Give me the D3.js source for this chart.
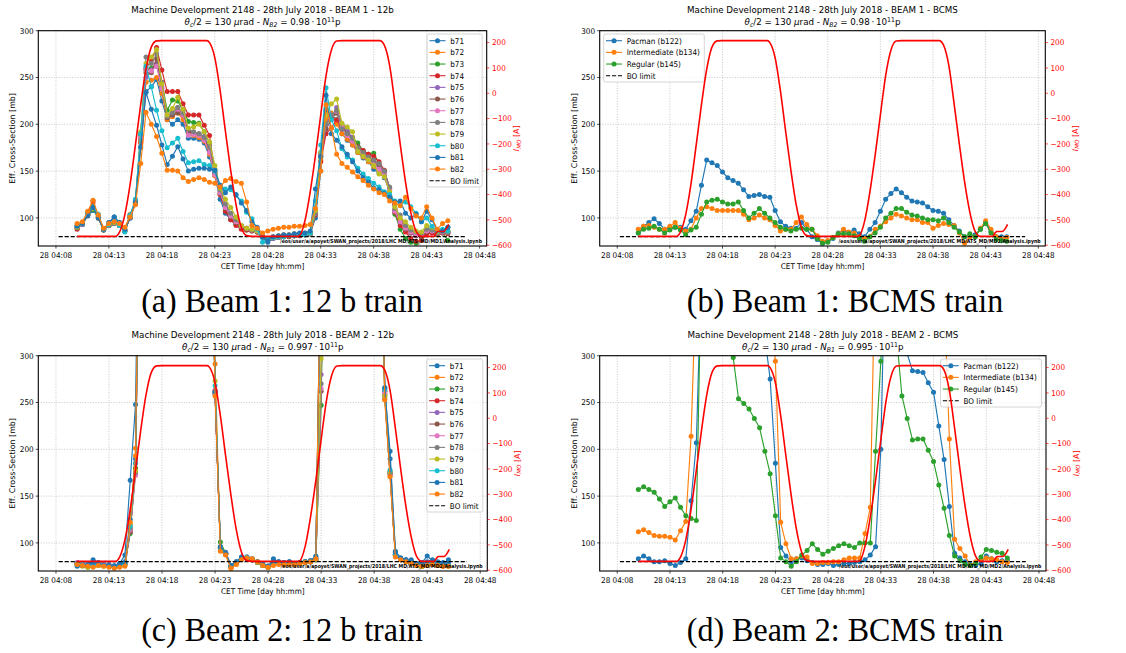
<!DOCTYPE html>
<html>
<head>
<meta charset="utf-8">
<title>MD 2148 – effective cross-section vs MO current</title>
<script src="https://cdn.jsdelivr.net/npm/d3@7/dist/d3.min.js"></script>
<style>
  html, body { margin: 0; padding: 0; background: #ffffff; }
  svg { display: block; }
  text { font-family: "DejaVu Sans", "Noto Sans", sans-serif; }
  .caption { font-family: "Liberation Serif", "DejaVu Serif", serif; }
</style>
</head>
<body>
<svg id="fig" width="1126" height="653" xmlns="http://www.w3.org/2000/svg"></svg>
<script>
// ---------- acquisition clock (one sample every 30 s, 28 July 2018) ----------
const sampleStart = "04:10:00";
const sampleStepSeconds = 30;

const timeTickLabels = ["04:08","04:13","04:18","04:23","04:28","04:33","04:38","04:43","04:48"];
const crossSectionTicks = [100, 150, 200, 250, 300];
const currentTicks = [-600, -500, -400, -300, -200, -100, 0, 100, 200];

const boLimit = 80;
const boLimitSpan = ["04:08:15", "04:46:45"];

const trainBunches = ["b71","b72","b73","b74","b75","b76","b77","b78","b79","b80","b81","b82"];
const bcmsBunches = ["Pacman (b122)", "Intermediate (b134)", "Regular (b145)"];

// ---------- Beam 1, 12b train: effective cross-section [mb] ----------
const b1_b71 = [91,93,102,108,102,87,95,101,95,86,103,118, 175,235,240,248,225,205,200,205,200,185,185,184,180,165,145,120,105,98,93,90, 88,87,86,79,74,78,79,80,81,81,82,82,83,100, 150,215,210,205,190,183,178,170,164,160,152,148,143,128, 106,97,90,86,83,82,88,88,84,86,90];
const b1_b72 = [93,95,106,116,102,88,92,94,93,88,104,115, 182,245,247,250,233,205,208,212,205,190,188,186,182,168,145,125,110,101,95,91, 89,88,86,81,78,80,81,82,82,83,83,84,85,106, 162,205,212,200,190,184,178,170,165,160,155,150,145,128, 108,98,91,86,83,82,87,87,85,86,86];
const b1_b73 = [90,94,103,109,100,87,92,94,92,86,101,116, 188,258,260,262,245,215,226,225,215,203,202,201,192,180,152,127,110,100,93,89, 87,86,85,80,77,78,79,80,80,81,81,82,83,104, 165,200,207,212,198,192,186,180,172,168,169,158,150,132, 104,88,78,74,73,76,84,85,82,84,76];
const b1_b74 = [88,94,103,118,100,87,92,94,92,86,100,115, 180,260,268,282,258,235,235,235,222,210,210,210,199,188,148,125,107,98,92,88, 87,86,85,80,78,79,80,80,80,81,81,82,83,103, 160,190,196,205,195,190,186,176,172,168,166,160,151,130, 106,92,85,78,75,76,83,84,82,84,83];
const b1_b75 = [90,93,104,111,101,88,93,95,93,87,102,116, 186,250,258,265,240,210,210,218,210,192,190,189,187,172,148,128,112,103,96,91, 89,87,86,80,76,78,79,80,81,81,82,82,83,106, 168,195,205,218,200,193,186,172,168,163,158,155,148,131, 108,96,89,84,81,81,86,86,84,85,85];
const b1_b76 = [89,94,103,110,100,88,92,94,92,86,101,115, 184,255,255,270,238,207,210,212,210,193,190,190,185,172,148,126,110,101,95,90, 88,87,85,80,77,79,80,80,81,81,82,82,83,104, 166,195,206,212,198,190,184,176,170,164,160,156,150,132, 109,95,88,84,81,80,85,86,83,85,84];
const b1_b77 = [91,94,104,111,102,88,93,95,93,87,102,117, 186,258,257,262,238,210,214,216,210,188,189,188,183,170,146,127,111,102,96,91, 89,87,86,80,77,79,80,81,81,82,82,83,84,105, 168,200,210,214,197,188,182,174,166,162,157,152,147,130, 107,96,89,85,82,82,86,86,84,85,85];
const b1_b78 = [90,94,104,110,101,88,92,94,92,86,101,116, 190,272,265,275,245,208,212,218,212,195,192,190,186,176,150,130,115,105,98,92, 89,87,86,80,77,79,80,80,81,81,82,82,83,105, 170,200,210,215,195,190,185,175,170,165,162,158,150,133, 110,103,92,87,85,84,88,87,84,86,85];
const b1_b79 = [90,94,104,110,101,88,93,95,93,87,102,117, 192,265,272,280,243,210,217,229,216,196,197,200,192,181,156,132,120,111,101,92, 89,88,86,81,77,79,80,81,81,82,82,83,84,108, 170,210,222,227,201,197,192,171,166,162,156,147,144,128, 112,100,96,90,86,85,92,90,85,86,86];
const b1_b80 = [92,95,105,112,104,88,93,96,92,85,103,120, 190,262,240,215,193,175,180,185,171,159,160,161,157,156,150,135,131,130,124,118, 106,99,88,74,78,79,80,80,81,81,82,82,84,118, 178,239,205,193,174,165,162,153,147,142,137,133,128,125, 118,116,117,112,105,96,100,91,86,88,86];
const b1_b81 = [91,94,103,111,100,88,95,101,95,88,100,117, 176,234,216,199,178,157,166,176,163,150,152,153,153,152,151,135,127,133,125,116, 108,96,90,80,76,80,81,82,82,83,84,84,86,131, 166,231,190,183,176,168,160,150,143,138,132,130,126,122, 117,118,105,100,104,96,107,98,87,86,90];
const b1_b82 = [94,96,107,119,103,89,94,96,94,90,101,114, 158,213,200,187,169,151,151,150,143,139,141,143,141,138,137,133,140,142,139,137, 117,92,89,84,86,88,89,90,90,91,91,92,93,110, 150,221,196,168,158,154,149,144,140,135,131,127,125,118, 116,113,122,110,102,100,112,100,88,94,97];

// ---------- Beam 1, BCMS train ----------
const bcms1_pacman = [84,91,95,99,94,88,89,90,90,88,97,107,135,162,159,156,149,143,140,137,130,123,124,125,123,122,108,96,91,89,89,95,88,80,77,73,75,78,84,87,84,87,83,80,88,95,107,120,126,131,127,122,118,117,116,112,108,107,105,98,92,86,80,80,82,88,95,86,80,80,80];
const bcms1_inter  = [88,91,92,90,88,88,91,95,89,86,88,100,110,112,110,108,108,108,108,108,104,98,100,103,100,98,92,86,88,88,95,101,93,88,81,75,76,79,83,88,85,84,80,78,80,88,91,96,100,104,102,100,98,98,95,95,89,92,94,93,92,84,73,80,80,89,97,88,80,78,79];
const bcms1_regular = [84,88,89,91,88,84,87,90,87,82,87,90,104,117,119,120,117,115,115,117,108,100,105,110,105,100,95,90,88,86,88,89,88,88,78,73,74,79,83,83,83,81,78,75,80,84,90,100,105,110,110,106,103,102,100,98,98,97,100,95,90,85,80,83,80,88,94,84,77,76,75];

// ---------- Beam 2, 12b train ----------
const b2_b71 = [76,78,77,82,79,78,77,76,78,87,167,248, 620,700,740,760,770,770,760,750,740,720,700,680,640,560, 261,96,90,76,80,85,84,82,80,76,75,83,80,79,80,78,79,80,81,86, 420, 650,720,760,780,780,770,760,740,700,640,560, 265,198,91,84,82,82,78,79,86,81,79,78,82];
const b2_b72 = [78,76,77,75,77,76,75,74,75,77,118,201, 600,680,720,740,750,750,740,730,720,700,680,650,610,600, 291,92,88,73,78,83,85,83,80,77,74,77,78,77,78,77,78,79,80,83, 450, 640,700,740,760,760,750,740,720,680,620,550, 253,171,86,82,80,78,76,75,77,78,76,75,75];
const b2_b73 = [77,76,74,75,76,77,76,75,76,78,110,180, 580,660,700,720,730,730,720,710,700,690,670,640,600,580, 258,101,89,75,79,84,84,82,79,76,74,78,78,78,79,78,79,80,80,82, 247, 600,680,720,740,740,730,720,700,660,600,540, 258,175,88,83,81,79,76,75,77,78,76,76,76];
const b2_b74 = [78,77,76,76,77,76,75,74,75,77,112,185, 590,670,710,730,740,740,730,720,710,700,680,650,620,590, 263,94,88,74,78,83,84,82,79,76,74,78,79,78,79,78,79,80,80,82, 440, 630,700,740,760,760,750,740,720,680,620,560, 262,176,87,82,80,78,76,76,77,78,76,76,76];
const b2_b75 = [79,78,77,77,78,77,76,75,76,78,115,176, 590,670,710,730,740,740,730,720,710,700,680,650,620,590, 262,95,89,75,79,84,85,83,80,77,75,78,79,78,79,78,79,80,81,83, 280, 630,700,740,760,760,750,740,720,680,620,560, 262,175,88,83,81,79,77,76,78,78,77,76,77];
const b2_b76 = [78,77,76,76,77,76,75,75,76,77,112,178, 590,670,710,730,740,740,730,720,710,700,680,650,620,590, 260,95,88,75,79,83,84,82,79,76,75,78,79,78,79,78,79,80,80,82, 262, 620,690,730,750,750,740,730,710,670,610,550, 258,174,87,82,80,78,77,76,77,78,77,76,76];
const b2_b77 = [79,78,77,77,78,77,76,75,76,78,114,172, 590,670,710,730,740,740,730,720,710,700,680,650,620,590, 259,96,89,75,79,84,85,82,80,77,75,79,79,78,79,78,79,80,81,83, 265, 620,690,730,750,750,740,730,710,670,610,550, 260,173,88,82,80,78,77,76,78,78,77,77,77];
const b2_b78 = [78,77,76,76,77,76,76,75,76,78,116,175, 590,670,710,730,740,740,730,720,710,700,680,650,620,590, 262,94,88,75,79,83,84,82,80,76,75,78,79,78,79,78,79,80,80,82, 270, 620,690,730,750,750,740,730,710,670,610,550, 255,174,87,82,80,78,77,76,77,78,77,76,76];
const b2_b79 = [76,75,74,75,76,75,75,74,75,77,120,177, 600,680,720,740,750,750,740,730,720,700,680,650,620,600, 273,95,88,75,79,84,84,82,79,76,74,78,79,78,79,78,79,80,80,82, 297, 640,700,740,760,760,750,740,720,680,620,560, 257,176,87,82,80,78,76,75,77,77,76,76,75];
const b2_b80 = [77,77,76,76,77,76,75,75,76,78,118,185, 600,680,720,740,750,750,740,730,720,700,680,650,620,600, 268,93,88,75,79,84,85,83,80,77,75,78,79,78,79,78,79,80,81,83, 430, 640,700,740,760,760,750,740,720,680,620,560, 264,178,88,82,80,78,77,76,78,78,77,76,77];
const b2_b81 = [75,76,77,79,77,76,76,75,77,80,125,190, 620,690,730,750,760,760,750,740,730,710,690,660,630,610, 261,96,89,76,80,85,84,82,80,77,75,80,80,79,80,78,79,80,81,85, 440, 650,710,750,770,770,760,750,730,690,630,570, 266,190,90,84,82,80,78,78,80,82,80,79,80];
const b2_b82 = [77,76,75,74,76,75,74,73,74,75,122,193, 610,690,730,750,760,760,750,740,730,710,690,660,630,610, 257,91,87,73,77,82,84,83,80,76,74,76,77,77,77,77,78,79,80,83, 450, 650,710,750,770,770,760,750,730,690,630,570, 253,171,85,82,80,78,76,75,76,77,76,75,75];

// ---------- Beam 2, BCMS train ----------
const bcms2_pacman = [83,86,83,80,80,81,78,76,79,83,145,207, 400,520,560,580,590,590,580,560,540,500,450,400,320, 275,185,95,86,80,83,84,81,79,77,77,78,76,77,78,78,79,80,82,87,96,200, 460,560,520,400, 302,284,283,282,271,261,225,189,139,89,84,80,77,76,78,86,83,80,81,81];
const bcms2_inter  = [112,114,111,108,107,107,106,103,113,123,214, 390,560,620,650,650,640,630,620,600,580,560,540,520,480,340, 294,122,99,83,83,86,85,78,78,79,79,80,80,82,84,84,84,110,138, 430,540,600,620,620,610,600,580,560,540,520,480,440,370, 211,104,94,86,76,80,82,84,83,82,80,79];
const bcms2_regular = [157,160,157,154,147,139,144,148,138,129,126,124, 410,560,640,660,620,500, 298,254,249,243,233,223,198,174,129,84,80,75,80,87,92,99,93,88,91,94,97,99,97,95,100,100,100,198,294, 450,520,320, 257,233,210,211,211,199,187,162,137,108,86,81,77,76,78,85,93,92,90,89,84];

// ---------- MO current I_MO [A] ----------
const moClock = ["04:10:00","04:13:35","04:14:00","04:14:30","04:15:00","04:15:30","04:16:00","04:16:30","04:17:00","04:17:30","04:18:00","04:22:15","04:22:30","04:23:00","04:23:30","04:24:00","04:24:30","04:25:00","04:25:30","04:26:00","04:26:30","04:30:45","04:31:00","04:31:30","04:32:00","04:32:30","04:33:00","04:33:30","04:34:00","04:34:30","04:35:00","04:38:35","04:39:00","04:39:30","04:40:00","04:40:30","04:41:00","04:41:30","04:42:00","04:42:30","04:43:40","04:43:55","04:44:05","04:44:35","04:45:05"];
const moCurrent = [-565,-565,-548,-480,-360,-205,-45,95,182,207,208,208,200,140,10,-150,-305,-440,-530,-562,-565,-565,-562,-505,-390,-245,-85,70,170,206,208,208,190,110,-40,-200,-350,-470,-545,-565,-565,-550,-546,-546,-518];

// ---------- figure ----------
const tab10 = ["#1f77b4","#ff7f0e","#2ca02c","#d62728","#9467bd","#8c564b","#e377c2","#7f7f7f","#bcbd22","#17becf"];
const SX = 0.92;           // horizontal text compression of the figure
const FS = 7.9;            // tick / label / legend size
const FS_TITLE = 9.5;
const MARKER_R = 2.5;

const svg = d3.select("#fig");

function clock(s) {
  const p = s.split(":").map(Number);
  return new Date(2018, 6, 28, p[0], p[1], p[2] || 0);
}
const startMs = clock(sampleStart).getTime();
const sampleTimes = b1_b71.map((_, i) => new Date(startMs + i * sampleStepSeconds * 1000));
const timeTicks = timeTickLabels.map(clock);
const xDomain = [clock("04:06:20"), clock("04:48:40")];
const yDomain = [70, 300];
const yRightDomain = [-603, 247];
const fmtTime = d3.timeFormat("%d %H:%M");
const fmtCurrent = v => (v < 0 ? "\u2212" + Math.abs(v) : String(v));

function txt(parent, x, y, str, o = {}) {
  const t = parent.append("text")
    .attr("transform", o.rotate != null
      ? `translate(${x},${y}) rotate(${o.rotate})`
      : `translate(${x},${y}) scale(${o.sx != null ? o.sx : SX},1)`)
    .attr("font-size", o.size || FS)
    .attr("text-anchor", o.anchor || "start")
    .attr("fill", o.fill || "#000");
  if (str != null) t.text(str);
  return t;
}

const panels = [
  { key: "a", frame: { left: 38.3, right: 486.7, top: 30.7, bottom: 246 },
    beamLabel: "BEAM 1 - 12b", nLabel: "B2", nValue: "0.98",
    names: trainBunches,
    series: [b1_b71,b1_b72,b1_b73,b1_b74,b1_b75,b1_b76,b1_b77,b1_b78,b1_b79,b1_b80,b1_b81,b1_b82],
    legend: { side: "right", width: 55 },
    note: "/eos/user/a/apoyet/SWAN_projects/2018/LHC MD/ATS_MD/MD1/Analysis.ipynb",
    caption: "(a) Beam 1: 12 b train", captionAt: [282, 312] },
  { key: "b", frame: { left: 599.7, right: 1045.3, top: 30.7, bottom: 246 },
    beamLabel: "BEAM 1 - BCMS", nLabel: "B2", nValue: "0.98",
    names: bcmsBunches,
    series: [bcms1_pacman, bcms1_inter, bcms1_regular],
    legend: { side: "left", width: 100.6 },
    note: "/eos/user/a/apoyet/SWAN_projects/2018/LHC MD/ATS_MD/MD2/Analysis.ipynb",
    caption: "(b) Beam 1: BCMS train", captionAt: [845, 312] },
  { key: "c", frame: { left: 38.3, right: 487.3, top: 355.7, bottom: 571 },
    beamLabel: "BEAM 2 - 12b", nLabel: "B1", nValue: "0.997",
    names: trainBunches,
    series: [b2_b71,b2_b72,b2_b73,b2_b74,b2_b75,b2_b76,b2_b77,b2_b78,b2_b79,b2_b80,b2_b81,b2_b82],
    legend: { side: "right", width: 56 },
    note: "/eos/user/a/apoyet/SWAN_projects/2018/LHC MD/ATS_MD/MD2/Analysis.ipynb",
    caption: "(c) Beam 2: 12 b train", captionAt: [282, 641] },
  { key: "d", frame: { left: 599.7, right: 1046, top: 355.7, bottom: 571 },
    beamLabel: "BEAM 2 - BCMS", nLabel: "B1", nValue: "0.995",
    names: bcmsBunches,
    series: [bcms2_pacman, bcms2_inter, bcms2_regular],
    legend: { side: "right", width: 101 },
    note: "/eos/user/a/apoyet/SWAN_projects/2018/LHC MD/ATS_MD/MD2/Analysis.ipynb",
    caption: "(d) Beam 2: BCMS train", captionAt: [845, 641] }
];

function drawPanel(p) {
  const f = p.frame;
  const cx = (f.left + f.right) / 2;
  const cy = (f.top + f.bottom) / 2;
  const x = d3.scaleTime().domain(xDomain).range([f.left, f.right]);
  const y = d3.scaleLinear().domain(yDomain).range([f.bottom, f.top]);
  const yR = d3.scaleLinear().domain(yRightDomain).range([f.bottom, f.top]);
  const g = svg.append("g").attr("class", "panel-" + p.key);

  const clipId = "plot-area-" + p.key;
  g.append("clipPath").attr("id", clipId).append("rect")
    .attr("x", f.left).attr("y", f.top)
    .attr("width", f.right - f.left).attr("height", f.bottom - f.top);

  // dotted grid
  const grid = g.append("g").attr("stroke", "#b0b0b0").attr("stroke-width", 0.7)
    .attr("stroke-dasharray", "1,1.6");
  timeTicks.forEach(t => grid.append("line")
    .attr("x1", x(t)).attr("x2", x(t)).attr("y1", f.top).attr("y2", f.bottom));
  crossSectionTicks.forEach(v => grid.append("line")
    .attr("x1", f.left).attr("x2", f.right).attr("y1", y(v)).attr("y2", y(v)));

  // bunch series
  const plot = g.append("g").attr("clip-path", `url(#${clipId})`);
  const line = d3.line().x(d => x(d[0])).y(d => y(d[1]));
  p.series.forEach((vals, k) => {
    const color = tab10[k % 10];
    const pts = vals.map((v, i) => [sampleTimes[i], v]);
    plot.append("path").attr("d", line(pts)).attr("fill", "none")
      .attr("stroke", color).attr("stroke-width", 1.15).attr("stroke-linejoin", "round");
    plot.append("g").attr("fill", color).selectAll("circle").data(pts).join("circle")
      .attr("cx", d => x(d[0])).attr("cy", d => y(d[1])).attr("r", MARKER_R);
  });
  // burn-off limit
  plot.append("path")
    .attr("d", line(boLimitSpan.map(s => [clock(s), boLimit])))
    .attr("fill", "none").attr("stroke", "#000").attr("stroke-width", 1.1)
    .attr("stroke-dasharray", "4.2,1.8");

  // legend
  const entries = p.names.map((n, k) => ({ name: n, color: tab10[k % 10], dashed: false }))
    .concat([{ name: "BO limit", color: "#000", dashed: true }]);
  const rowH = 11.67;
  const lh = 6.7 + (entries.length - 1) * rowH + 6.3;
  const lx = p.legend.side === "left" ? f.left + 4 : f.right - 4.5 - p.legend.width;
  const ly = f.top + 3.3;
  const lg = g.append("g");
  lg.append("rect").attr("x", lx).attr("y", ly).attr("width", p.legend.width).attr("height", lh)
    .attr("rx", 2).attr("fill", "#fff").attr("fill-opacity", 0.8)
    .attr("stroke", "#cccccc").attr("stroke-width", 0.8);
  entries.forEach((e, k) => {
    const ey = ly + 6.7 + k * rowH;
    lg.append("line").attr("x1", lx + 2.3).attr("x2", lx + 18.3).attr("y1", ey).attr("y2", ey)
      .attr("stroke", e.color).attr("stroke-width", 1.1)
      .attr("stroke-dasharray", e.dashed ? "4.2,1.8" : null);
    if (!e.dashed) lg.append("circle").attr("cx", lx + 10.3).attr("cy", ey).attr("r", MARKER_R).attr("fill", e.color);
    txt(lg, lx + 23, ey + 2.9, e.name);
  });

  // MO current on the twin axis
  g.append("path").attr("clip-path", `url(#${clipId})`)
    .attr("d", d3.line().curve(d3.curveMonotoneX)
      .x((d, i) => x(clock(moClock[i]))).y(d => yR(d))(moCurrent))
    .attr("fill", "none").attr("stroke", "#ff0000").attr("stroke-width", 1.6);

  // file note
  g.append("text").attr("x", f.right - 4.7).attr("y", f.bottom - 3)
    .attr("text-anchor", "end").attr("font-size", 5.4).attr("font-weight", "bold")
    .attr("textLength", 202).attr("lengthAdjust", "spacingAndGlyphs")
    .attr("fill", "#000").text(p.note);

  // spines
  g.append("rect").attr("x", f.left).attr("y", f.top)
    .attr("width", f.right - f.left).attr("height", f.bottom - f.top)
    .attr("fill", "none").attr("stroke", "#000").attr("stroke-width", 1.1);

  // bottom axis
  const ax = g.append("g");
  timeTicks.forEach(t => {
    ax.append("line").attr("x1", x(t)).attr("x2", x(t)).attr("y1", f.bottom).attr("y2", f.bottom + 2.6)
      .attr("stroke", "#000").attr("stroke-width", 0.7);
    txt(ax, x(t), f.bottom + 11.7, fmtTime(t), { anchor: "middle" });
  });
  txt(ax, cx, f.bottom + 22.5, "CET Time [day hh:mm]", { anchor: "middle" });

  // left axis
  crossSectionTicks.forEach(v => {
    ax.append("line").attr("x1", f.left - 2.6).attr("x2", f.left).attr("y1", y(v)).attr("y2", y(v))
      .attr("stroke", "#000").attr("stroke-width", 0.7);
    txt(ax, f.left - 4.6, y(v) + 2.9, String(v), { anchor: "end" });
  });
  txt(ax, f.left - 23, cy, "Eff. Cross-Section [mb]", { anchor: "middle", rotate: -90 });

  // right axis (MO current)
  currentTicks.forEach(v => {
    ax.append("line").attr("x1", f.right).attr("x2", f.right + 2.6).attr("y1", yR(v)).attr("y2", yR(v))
      .attr("stroke", "#ff0000").attr("stroke-width", 0.7);
    txt(ax, f.right + 5.2, yR(v) + 2.6, fmtCurrent(v), { fill: "#ff0000" });
  });
  const rl = txt(ax, f.right + 32.5, cy, null, { anchor: "middle", rotate: -90, fill: "#ff0000" });
  rl.append("tspan").attr("font-style", "italic").text("I");
  rl.append("tspan").attr("font-style", "italic").attr("font-size", 5.6).attr("dy", 1.6).text("MO");
  rl.append("tspan").attr("dy", -1.6).text(" [A]");

  // titles
  txt(g, cx, f.top - 17.5, "Machine Development 2148 - 28th July 2018 - " + p.beamLabel,
      { anchor: "middle", size: FS_TITLE });
  const t2 = txt(g, cx, f.top - 5.5, null, { anchor: "middle", size: FS_TITLE });
  t2.append("tspan").attr("font-style", "italic").text("\u03B8");
  t2.append("tspan").attr("font-style", "italic").attr("font-size", 6.7).attr("dy", 1.8).text("c");
  t2.append("tspan").attr("dy", -1.8).text("/2 = 130 ");
  t2.append("tspan").attr("font-style", "italic").text("\u03BC");
  t2.append("tspan").text("rad - ");
  t2.append("tspan").attr("font-style", "italic").text("N");
  t2.append("tspan").attr("font-style", "italic").attr("font-size", 6.7).attr("dy", 1.8).text(p.nLabel);
  t2.append("tspan").attr("dy", -1.8).text(" = " + p.nValue + "\u2009\u00B7\u200910");
  t2.append("tspan").attr("font-size", 6.7).attr("dy", -3.6).text("11");
  t2.append("tspan").attr("dy", 3.6).text("p");

  // sub-figure caption
  txt(g, p.captionAt[0], p.captionAt[1], p.caption, { anchor: "middle", size: 33, sx: 0.97 })
    .attr("class", "caption");
}

panels.forEach(drawPanel);
</script>
</body>
</html>
